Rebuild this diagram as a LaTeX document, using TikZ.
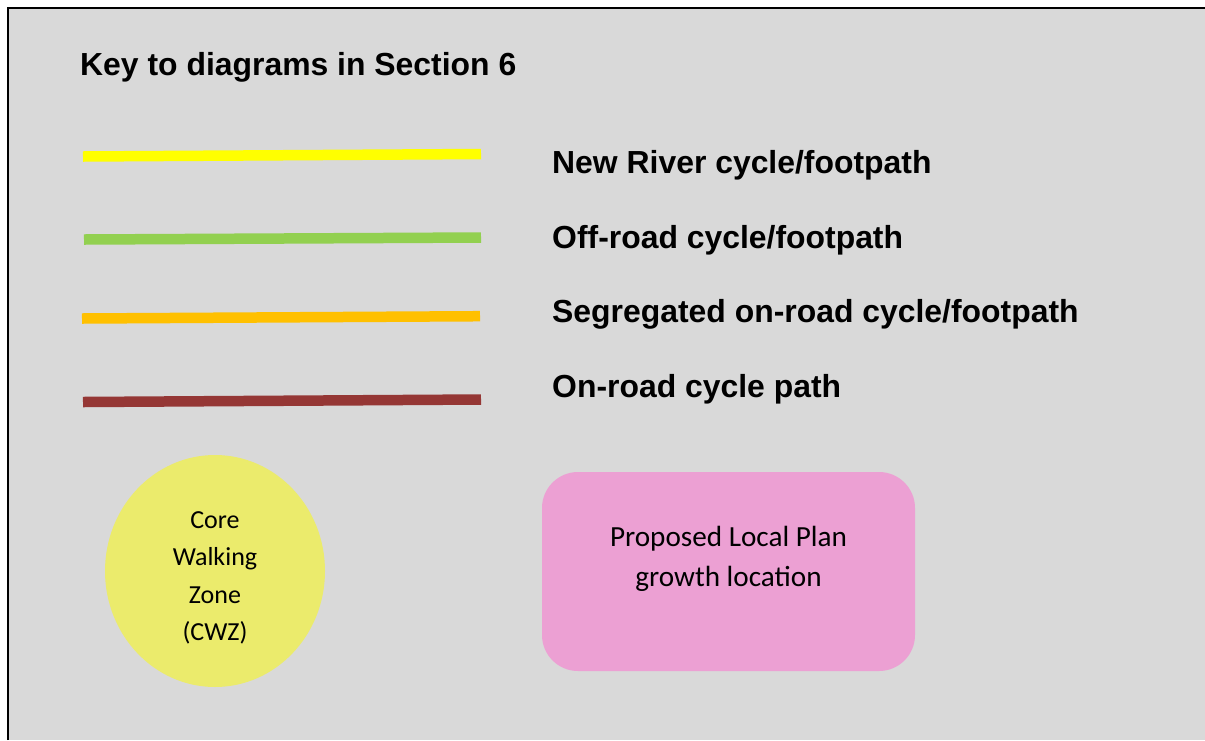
\documentclass[tikz,border=0pt]{standalone}
\usepackage{fontspec}
\setmainfont{Carlito}
\newfontfamily\arialf{Liberation Sans}
\usetikzlibrary{shapes.geometric}
\definecolor{bggrey}{HTML}{D9D9D9}
\definecolor{kyellow}{HTML}{FFFF00}
\definecolor{kgreen}{HTML}{92D050}
\definecolor{korange}{HTML}{FFC000}
\definecolor{kbrown}{HTML}{953735}
\definecolor{cwz}{HTML}{EBEB6C}
\definecolor{kpink}{HTML}{ECA0D3}
\tikzset{
  keyline/.style={line width=10.5pt},
  keylabel/.style={anchor=base west, inner sep=0pt, font=\arialf\bfseries\fontsize{31.9}{37}\selectfont},
  bodytext/.style={inner sep=0pt, align=center}
}
\begin{document}
\begin{tikzpicture}[x=1pt,y=-1pt]
\useasboundingbox (0,0) rectangle (1205,740);
\fill[white] (0,0) rectangle (1205,740);
\fill[bggrey] (8,8) rectangle (1205,740);
\draw[line width=2.5pt] (8,740) -- (8,8) -- (1205,8);

\node[anchor=base west, inner sep=0pt, font=\arialf\bfseries\fontsize{31.9}{37}\selectfont] (title) at (80,75) {Key to diagrams in Section 6};

\coordinate (y1) at (83,156.5); \coordinate (y2) at (481,154);
\coordinate (g1) at (84,239.5); \coordinate (g2) at (481,237.5);
\coordinate (o1) at (82,318.5); \coordinate (o2) at (480,316.2);
\coordinate (b1) at (83,402); \coordinate (b2) at (481,399.5);
\draw[keyline, kyellow] (y1) -- (y2);
\draw[keyline, kgreen] (g1) -- (g2);
\draw[keyline, korange] (o1) -- (o2);
\draw[keyline, kbrown] (b1) -- (b2);

\node[keylabel] (l1) at (552,173) {New River cycle/footpath};
\node[keylabel] (l2) at (552,248) {Off-road cycle/footpath};
\node[keylabel] (l3) at (552,322) {Segregated on-road cycle/footpath};
\node[keylabel] (l4) at (552,397.5) {On-road cycle path};

\node[ellipse, fill=cwz, minimum width=220pt, minimum height=232pt, inner sep=0pt] (cwz) at (215,571) {};
\node[bodytext, font=\fontsize{26}{37.5}\selectfont] (cwztext) at (215,578) {Core\\Walking\\Zone\\(CWZ)};

\fill[kpink, rounded corners=36pt] (542,472) rectangle (915,671);
\coordinate (growth) at (728.5,571.5);
\node[bodytext, font=\fontsize{29.2}{40}\selectfont] (growthtext) at (728.5,558.5) {Proposed Local Plan\\growth location};
\end{tikzpicture}
\end{document}
